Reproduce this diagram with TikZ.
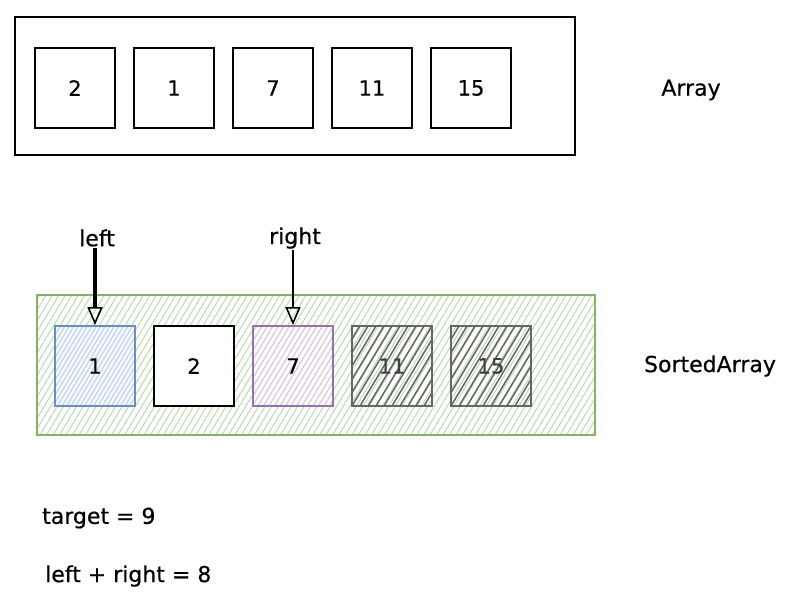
\documentclass[tikz,border=0pt]{standalone}
\usepackage{fontspec}
\setmainfont{DejaVu Sans}[FakeBold=0.5]
\usetikzlibrary{arrows.meta,calc}
\definecolor{gstroke}{HTML}{82B366}
\definecolor{gfill}{HTML}{B9DBAE}
\definecolor{bstroke}{HTML}{6C8EBF}
\definecolor{bfill}{HTML}{C4DAF5}
\definecolor{pstroke}{HTML}{9673A6}
\definecolor{pfill}{HTML}{DCCAE5}
\definecolor{dstroke}{HTML}{666666}
\tikzset{
  cell/.style={draw=black, line width=1.8pt, minimum width=80pt, minimum height=80pt, inner sep=0pt, font=\fontsize{21}{25}\selectfont},
  hatch/.style n args={3}{path picture={
      \path (path picture bounding box.center) coordinate (pc);
      \foreach \k in {-60,...,60}
        \draw[#1, line width=#2] ([shift={(\k*#3-60,100)}]pc) -- ++(120,-200);
  }},
  lbl/.style={font=\fontsize{22}{26}\selectfont, inner sep=1pt},
  ptr/.style={-{Triangle[open,length=18pt,width=15pt,line width=1.6pt]}, line width=1.6pt},
}
\begin{document}
\begin{tikzpicture}[x=1pt,y=-1pt]
\useasboundingbox (0,0) rectangle (800,609);
% top array
\node[draw=black, line width=2pt, minimum width=560pt, minimum height=138pt, inner sep=0pt] (top) at (295,86) {};
\node[cell] (t1) at (75,88) {2};
\node[cell] (t2) at (174,88) {1};
\node[cell] (t3) at (273,88) {7};
\node[cell] (t4) at (372,88) {11};
\node[cell] (t5) at (471,88) {15};
\node[lbl] (arr) at (691,90) {Array};
% sorted array
\node[draw=gstroke, line width=1.8pt, minimum width=558pt, minimum height=140pt, inner sep=0pt, hatch={gfill}{1pt}{6.5}] (bot) at (316,365) {};
\node[cell, draw=bstroke, fill=white, hatch={bfill}{1.6pt}{4.5}] (b1) at (95,366) {1};
\node[cell, fill=white] (b2) at (194,366) {2};
\node[cell, draw=pstroke, fill=white, hatch={pfill}{1.3pt}{5.5}] (b3) at (293,366) {7};
\node[cell, draw=dstroke, hatch={dstroke}{1.5pt}{8}, text=black!75] (b4) at (392,366) {11};
\node[cell, draw=dstroke, hatch={dstroke}{1.5pt}{8}, text=black!75] (b5) at (491,366) {15};
\node[lbl] (sarr) at (710,366) {SortedArray};
% pointers
\node[lbl] (lft) at (97,238) {left};
\node[lbl] (rgt) at (295,238) {right};
\draw[ptr, line width=3.4pt] (b1.north |- lft.south) -- (b1.north);
\draw[ptr] (b3.north |- rgt.south) -- (b3.north);
% notes
\node[lbl, anchor=west] (tgt) at (41,518) {target = 9};
\node[lbl, anchor=west] (sum) at (44,576) {left + right = 8};
\end{tikzpicture}
\end{document}
